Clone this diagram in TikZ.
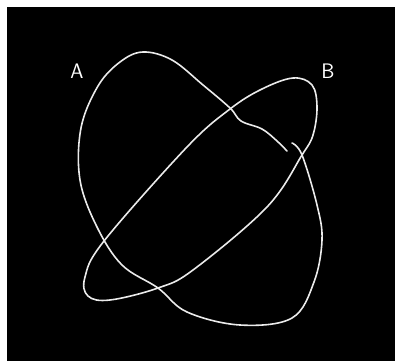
\documentclass[tikz,border=0pt]{standalone}
\begin{document}
\begin{tikzpicture}[x=1pt,y=-1pt,
  trace/.style={draw=white!92!black,line width=1.6pt,line cap=round,line join=round},
  lbl/.style={text=white,font=\sffamily\fontsize{21}{21}\selectfont,inner sep=0pt}]
\useasboundingbox (0,0) rectangle (395,361);
\fill[white] (0,0) rectangle (395,361);
\fill[black] (7,7) rectangle (395,361);
% curve A (nearly closed, with a small gap near upper right)
\draw[trace] plot[smooth,tension=0.6] coordinates {
 (292,143) (302,155) (317,205) (322,240) (314,282) (292,318) (240,325) (187,312)
 (158,288) (122,265) (97,227) (80,180) (81,128) (98,86) (120,62) (143,52) (172,60)
 (203,85) (230,108) (241,121) (262,129) (277,141) (287,151)};
% curve B (tilted loop)
\draw[trace] plot[smooth cycle,tension=0.6] coordinates {
 (293,78) (312,85) (317,107) (313,135) (302,155) (267,207) (193,270) (158,288)
 (110,300) (88,296) (85,277) (104,241) (187,147) (230,109) (262,89)};
\node[lbl] (A) at (77,71) {A};
\node[lbl] (B) at (328,71) {B};
\end{tikzpicture}
\end{document}
